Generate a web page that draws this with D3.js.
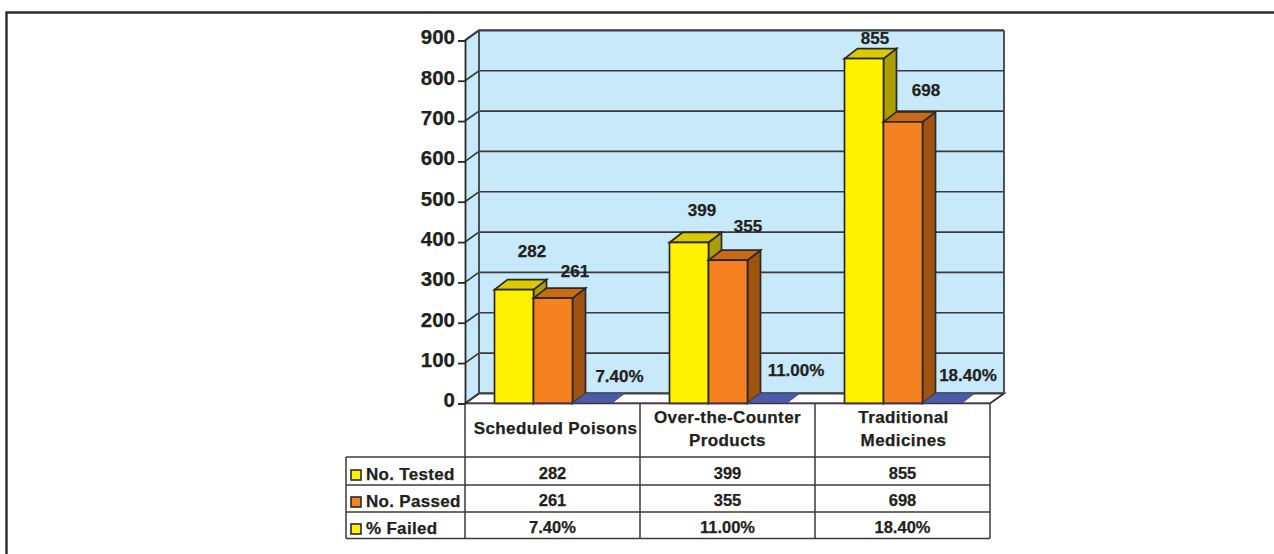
<!DOCTYPE html>
<html>
<head>
<meta charset="utf-8">
<script src="https://cdn.jsdelivr.net/npm/d3@7"></script>
<style>
html,body{margin:0;padding:0;background:#fff;}
svg{display:block;}
text{font-family:"Liberation Sans",Arial,sans-serif;font-weight:700;fill:#231f20;stroke:#231f20;stroke-width:0.25px;}
</style>
</head>
<body>
<svg id="chart" width="1274" height="554"></svg>
<script>
const categories = ["Scheduled Poisons", "Over-the-Counter Products", "Traditional Medicines"];
const categoryLines = [["Scheduled Poisons"], ["Over-the-Counter", "Products"], ["Traditional", "Medicines"]];
const seriesNames = ["No. Tested", "No. Passed", "% Failed"];
const noTested = [282, 399, 855];
const noPassed = [261, 355, 698];
const pctFailed = [7.4, 11.0, 18.4];
const yTicks = [0, 100, 200, 300, 400, 500, 600, 700, 800, 900];

// layout (not data)
const labelOffsets = [
  [[18, -39], [22, -27], [27.5, -27]],
  [[13, -32], [20, -34], [29, -33]],
  [[11, -21], [23, -32], [26, -28]]
];
const categoryLabelShift = [3, 0, 1];
const faces = [
  {front: "#fff200", top: "#d9ca00", side: "#ab9f00"},
  {front: "#f58220", top: "#c96a15", side: "#a0530f"},
  {front: "#4a5ba8", top: "#4a5ba8", side: "#4a5ba8"}
];
const legendColors = ["#fff200", "#f58220", "#fff200"];
const ink = "#2b2829", grid = "#3a3a3c";
const dx = 14, dy = -10, barDx = 13;

const svg = d3.select("#chart");
const y = d3.scaleLinear().domain([0, 900]).range([403.4, 40.4]);
const x0 = d3.scaleBand().domain(categories).range([465, 990]);
const x1 = d3.scaleBand().domain(seriesNames).range([29.5, 146.5]);

const plotted = [noTested, noPassed, pctFailed.map(v => v / 100)];
const shown = [noTested, noPassed, pctFailed.map(v => v.toFixed(2) + "%")];

// page frame
svg.append("path").attr("d", "M6.5,554V12.5H1274").attr("fill", "none")
  .attr("stroke", "#2a2a2c").attr("stroke-width", 2.4);

// walls and floor
const x0L = 465, x0R = 990, yB = y(0), yT = y(900);
svg.append("polygon").attr("fill", "#c7e9f9")
  .attr("points", [[x0L, yB], [x0L + dx, yB + dy], [x0L + dx, yT + dy], [x0L, yT]].join(" "));
svg.append("rect").attr("x", x0L + dx).attr("y", yT + dy).attr("width", x0R - x0L)
  .attr("height", yB - yT).attr("fill", "#c7e9f9");
svg.append("polygon").attr("fill", "#fff").attr("stroke", ink).attr("stroke-width", 1.8)
  .attr("points", [[x0L, yB], [x0L + dx, yB + dy], [x0R + dx, yB + dy], [x0R, yB]].join(" "));

// gridlines
svg.append("g").selectAll("path").data(yTicks).join("path")
  .attr("d", t => `M${x0L},${y(t)}L${x0L + dx},${y(t) + dy}H${x0R + dx}`)
  .attr("fill", "none").attr("stroke", grid).attr("stroke-width", t => t === 900 ? 2.2 : 1.7);
svg.append("path").attr("fill", "none").attr("stroke", "#4a4a4c").attr("stroke-width", 1.9)
  .attr("d", `M${x0L + dx},${yB + dy}V${yT + dy}M${x0R + dx},${yB + dy}V${yT + dy}`);

// y axis
const axis = svg.append("g").attr("transform", `translate(${x0L},0)`)
  .call(d3.axisLeft(y).tickValues(yTicks).tickSize(7).tickPadding(3).tickFormat(d3.format("d")));
axis.select(".domain").attr("stroke", ink).attr("stroke-width", 1.8);
axis.selectAll("line").attr("stroke", ink).attr("stroke-width", 1.8);
axis.selectAll("text").attr("font-size", 20.5).attr("dy", "0.32em")
  .attr("transform", "translate(0,-3)").style("fill", "#231f20");

// bars
categories.forEach((c, ci) => {
  const g = svg.append("g");
  seriesNames.forEach((s, si) => {
    const v = plotted[si][ci];
    const bx = x0(c) + x1(s), w = x1.bandwidth(), top = y(v), base = y(0);
    const f = faces[si];
    const stroke = si === 2 ? "#3d4a8c" : ink;
    const sw = si === 2 ? 0.5 : 1.7;
    g.append("polygon").attr("fill", f.side).attr("stroke", stroke).attr("stroke-width", sw)
      .attr("points", [[bx + w, base], [bx + w + barDx, base + dy], [bx + w + barDx, top + dy], [bx + w, top]].join(" "));
    g.append("polygon").attr("fill", f.top).attr("stroke", stroke).attr("stroke-width", sw)
      .attr("points", [[bx, top], [bx + barDx, top + dy], [bx + w + barDx, top + dy], [bx + w, top]].join(" "));
    g.append("rect").attr("x", bx).attr("y", top).attr("width", w).attr("height", base - top)
      .attr("fill", f.front).attr("stroke", stroke).attr("stroke-width", sw);
  });
});

// value labels
categories.forEach((c, ci) => {
  seriesNames.forEach((s, si) => {
    const v = plotted[si][ci], o = labelOffsets[ci][si];
    svg.append("text").attr("text-anchor", "middle").attr("font-size", 17)
      .attr("x", x0(c) + x1(s) + x1.bandwidth() / 2 + o[0])
      .attr("y", y(v) + o[1]).attr("dy", "0.35em")
      .text(shown[si][ci]);
  });
});

// data table
const rowY = d3.scalePoint().domain(seriesNames).range([472, 526]);
const tableRows = [457, 485, 512, 538.5];
const tableLeft = 346;
const t = svg.append("g").attr("fill", "none").attr("stroke", "#3a3a3c").attr("stroke-width", 1.5);
t.append("path").attr("d", `M${x0L},${yB}V${tableRows[3]}`);
categories.forEach(c => t.append("path").attr("d", `M${x0(c) + x0.bandwidth()},${yB}V${tableRows[3]}`));
tableRows.forEach(r => t.append("path").attr("d", `M${tableLeft},${r}H${x0R}`));
t.append("path").attr("d", `M${tableLeft},${tableRows[0]}V${tableRows[3]}`);
t.append("path").attr("d", `M${x0L},${yB}H${x0R}`).attr("stroke", "#4a3050").attr("stroke-width", 1.4);

// category labels
categories.forEach((c, ci) => {
  const lines = categoryLines[ci];
  lines.forEach((ln, li) => {
    svg.append("text").attr("text-anchor", "middle").attr("font-size", 17)
      .attr("letter-spacing", "0.4")
      .attr("x", x0(c) + x0.bandwidth() / 2 + categoryLabelShift[ci])
      .attr("y", 428.5 + (li - (lines.length - 1) / 2) * 23).attr("dy", "0.35em").text(ln);
  });
});

// table rows
seriesNames.forEach((s, si) => {
  const ry = rowY(s);
  svg.append("rect").attr("x", 351).attr("y", ry - 2).attr("width", 10).attr("height", 10)
    .attr("fill", legendColors[si]).attr("stroke", ink).attr("stroke-width", 1.6);
  svg.append("text").attr("x", 366).attr("y", ry + 2.5).attr("dy", "0.35em")
    .attr("font-size", 17).attr("letter-spacing", "0.3").text(s);
  categories.forEach((c, ci) => {
    svg.append("text").attr("text-anchor", "middle").attr("font-size", 16.5)
      .attr("x", x0(c) + x0.bandwidth() / 2).attr("y", ry + 1).attr("dy", "0.35em")
      .text(shown[si][ci]);
  });
});
</script>
</body>
</html>
